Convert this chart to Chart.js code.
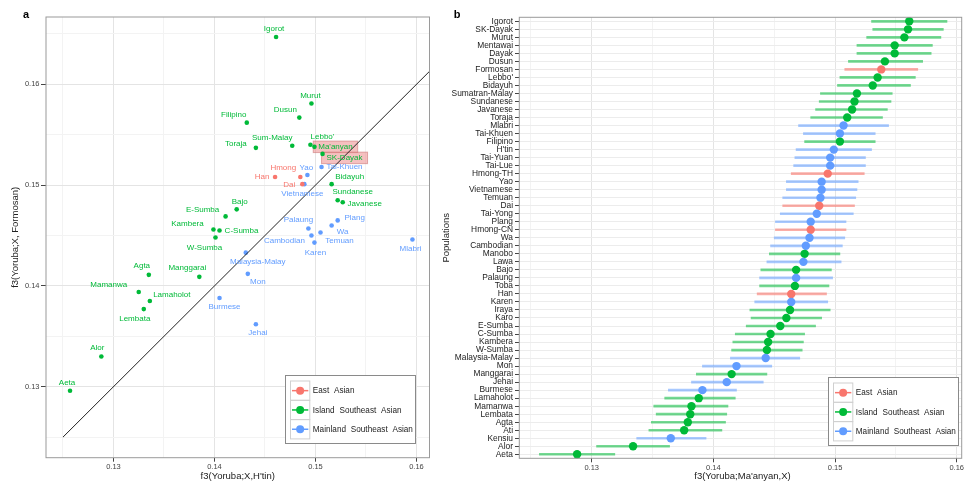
<!DOCTYPE html>
<html><head><meta charset="utf-8">
<script src="https://cdn.jsdelivr.net/npm/chart.js@4.4.1/dist/chart.umd.min.js"></script>
<style>
html,body{margin:0;padding:0;width:966px;height:483px;overflow:hidden;background:#fff;}
#wa{position:absolute;left:0;top:0;width:440px;height:483px;}
#wb{position:absolute;left:440px;top:0;width:540px;height:483px;}
</style></head><body>
<div id="wa"><canvas id="ca"></canvas></div>
<div id="wb"><canvas id="cb"></canvas></div>
<script>
// ---------- Panel a data ----------
const aNames = ["Igorot","Murut","Dusun","Filipino","Sum-Malay","Toraja","Lebbo'","Ma'anyan","SK-Dayak",
  "Tai-Khuen","Yao","Hmong","Han","Dai","Vietnamese",
  "Bidayuh","Sundanese","Javanese","Bajo","E-Sumba","Kambera","C-Sumba","W-Sumba",
  "Palaung","Plang","Wa","Cambodian","Temuan","Karen","Mlabri","Malaysia-Malay","Mon","Burmese","Jehai",
  "Agta","Manggarai","Mamanwa","Lamaholot","Lembata","Alor","Aeta"];
const aHtin = [0.1461,0.1496,0.1484,0.1432,0.1477,0.1441,0.1495,0.1499,0.1507,
  0.1506,0.1492,0.1485,0.1460,0.1487,0.1489,
  0.1516,0.1522,0.1527,0.1422,0.1411,0.1399,0.1405,0.1401,
  0.1493,0.1522,0.1516,0.1496,0.1505,0.1499,0.1596,0.1431,0.1433,0.1405,0.1441,
  0.1335,0.1385,0.1325,0.1336,0.1330,0.1288,0.1257];
const aFormosan = [0.1647,0.1581,0.1567,0.1562,0.1539,0.1537,0.1540,0.1538,0.1531,
  0.1518,0.1510,0.1508,0.1508,0.1501,0.1501,
  0.1501,0.1485,0.1483,0.1476,0.1469,0.1456,0.1455,0.1448,
  0.1457,0.1465,0.1460,0.1450,0.1453,0.1443,0.1446,0.1433,0.1412,0.1388,0.1362,
  0.1411,0.1409,0.1394,0.1385,0.1377,0.1330,0.1296];
const aGroup = ['I','I','I','I','I','I','I','I','I',
  'M','M','E','E','E','M',
  'I','I','I','I','I','I','I','I',
  'M','M','M','M','M','M','M','M','M','M','M',
  'I','I','I','I','I','I','I'];
const highlighted = ["Ma'anyan","SK-Dayak"];
const refLine = [0.125, 0.17];
const aXGrid = [0.125,0.13,0.135,0.14,0.145,0.15,0.155,0.16];
const aYGrid = [0.125,0.13,0.135,0.14,0.145,0.15,0.155,0.16,0.165];
const majorTicks = [0.13,0.14,0.15,0.16];

// label offsets (style, pixels)
const aLabelDX = [-2,-1,-14,-13,-20,-20,12,21,22, 23,-1,-17,-13,-13,-2, 18,15,22,3,-23,-26,22,-11, -10,17,11,-27,19,1,-2,12,10,5,2, -7,-12,-30,22,-9,-4,-3];
const aLabelDY = [-8,-8,-8,-8,-8,-4,-8,0,4, 0,-7,-9,0,1,10, -7,-8,2,-8,-7,-6,0,10, -9,-3,6,5,8,10,9,9,8,9,9, -9,-9,-7,-6,10,-9,-8];

// ---------- Panel b data ----------
const bPops = ["Igorot","SK-Dayak","Murut","Mentawai","Dayak","Dusun","Formosan","Lebbo'","Bidayuh",
  "Sumatran-Malay","Sundanese","Javanese","Toraja","Mlabri","Tai-Khuen","Filipino","H'tin","Tai-Yuan","Tai-Lue",
  "Hmong-TH","Yao","Vietnamese","Temuan","Dai","Tai-Yong","Plang","Hmong-CN","Wa","Cambodian","Manobo","Lawa",
  "Bajo","Palaung","Toba","Han","Karen","Iraya","Karo","E-Sumba","C-Sumba","Kambera","W-Sumba","Malaysia-Malay",
  "Mon","Manggarai","Jehai","Burmese","Lamaholot","Mamanwa","Lembata","Agta","Ati","Kensiu","Alor","Aeta"];
const bF3 = [0.1561,0.1560,0.1557,0.1549,0.1549,0.1541,0.1538,0.1535,0.1531,
  0.1518,0.1516,0.1514,0.1510,0.1507,0.1504,0.1504,0.1499,0.1496,0.1496,
  0.1494,0.1489,0.1489,0.1488,0.1487,0.1485,0.1480,0.1480,0.1479,0.1476,0.1475,0.1474,
  0.1468,0.1468,0.1467,0.1464,0.1464,0.1463,0.1460,0.1455,0.1447,0.1445,0.1444,0.1443,
  0.1419,0.1415,0.1411,0.1391,0.1388,0.1382,0.1381,0.1379,0.1376,0.1365,0.1334,0.1288];
const bLo = [0.1530,0.1531,0.1526,0.1518,0.1518,0.1511,0.1508,0.1504,0.1502,
  0.1488,0.1487,0.1484,0.1480,0.1470,0.1474,0.1475,0.1468,0.1467,0.1466,
  0.1464,0.1460,0.1460,0.1457,0.1457,0.1455,0.1451,0.1451,0.1450,0.1447,0.1446,0.1444,
  0.1439,0.1438,0.1438,0.1436,0.1434,0.1430,0.1431,0.1427,0.1418,0.1416,0.1415,0.1414,
  0.1391,0.1386,0.1382,0.1363,0.1360,0.1351,0.1353,0.1349,0.1347,0.1337,0.1304,0.1257];
const bHi = [0.1592,0.1589,0.1587,0.1580,0.1579,0.1572,0.1568,0.1566,0.1562,
  0.1547,0.1546,0.1543,0.1539,0.1544,0.1533,0.1533,0.1530,0.1525,0.1525,
  0.1524,0.1519,0.1518,0.1517,0.1516,0.1515,0.1509,0.1509,0.1508,0.1506,0.1504,0.1505,
  0.1497,0.1498,0.1495,0.1493,0.1494,0.1496,0.1489,0.1484,0.1475,0.1474,0.1473,0.1471,
  0.1448,0.1444,0.1441,0.1419,0.1418,0.1412,0.1411,0.1410,0.1407,0.1394,0.1364,0.1319];
const bGroup = ['I','I','I','I','I','I','E','I','I',
  'I','I','I','I','M','M','I','M','M','M',
  'E','M','M','M','E','M','M','E','M','M','I','M',
  'I','M','I','E','M','I','I','I','I','I','I','M',
  'M','I','M','M','I','I','I','I','I','M','I','I'];
const bXGrid = [0.125,0.13,0.135,0.14,0.145,0.15,0.155,0.16];

// ---------- legend ----------
const groupKeys = ['E','I','M'];
const groupLabels = ['East Asian','Island Southeast Asian','Mainland Southeast Asian'];

// ---------- styles ----------
const FONT = '"Liberation Sans", Arial, Helvetica, sans-serif';
const colors = {E:'#F8766D', I:'#00BA38', M:'#619CFF'};
const barColors = {E:'rgba(248,118,109,0.6)', I:'rgba(0,186,56,0.55)', M:'rgba(97,156,255,0.55)'};

const isMajor = v => majorTicks.some(m => Math.abs(m - v) < 1e-7);
const gridColor = c => (c.tick && isMajor(c.tick.value)) ? '#e4e4e4' : '#f3f3f3';
const tickColor = c => (c.tick && isMajor(c.tick.value)) ? '#444' : 'rgba(0,0,0,0)';
const tickLabel = v => isMajor(v) ? (+v).toFixed(2) : '';
const setTicks = arr => scale => { scale.ticks = arr.map(v => ({value: v})); };

function drawBorder(chart){
  const {ctx, chartArea:a} = chart;
  ctx.save(); ctx.strokeStyle='#9a9a9a'; ctx.lineWidth=1;
  ctx.strokeRect(a.left, a.top, a.right-a.left, a.bottom-a.top);
  ctx.restore();
}
function drawLegend(ctx, x0, y0){
  const w=130, h=68, ks=19.3;
  ctx.save();
  ctx.fillStyle='#fff'; ctx.fillRect(x0,y0,w,h);
  ctx.strokeStyle='#8a8a8a'; ctx.lineWidth=1; ctx.strokeRect(x0+0.5,y0+0.5,w,h);
  groupKeys.forEach((g,k)=>{
    const kx=x0+5.5, ky=y0+6+k*ks;
    ctx.strokeStyle='#d0d0d0'; ctx.lineWidth=1; ctx.strokeRect(kx,ky,ks,ks);
    ctx.strokeStyle=colors[g]; ctx.lineWidth=1.5;
    ctx.beginPath(); ctx.moveTo(kx+1.5,ky+ks/2); ctx.lineTo(kx+ks-1.5,ky+ks/2); ctx.stroke();
    ctx.fillStyle=colors[g]; ctx.beginPath(); ctx.arc(kx+ks/2,ky+ks/2,4,0,Math.PI*2); ctx.fill();
    ctx.fillStyle='#222'; ctx.font=`8.2px ${FONT}`; ctx.textAlign='left'; ctx.textBaseline='middle';
    if ('wordSpacing' in ctx) ctx.wordSpacing='2.5px';
    ctx.fillText(groupLabels[k], kx+ks+3, ky+ks/2+0.5);
  });
  ctx.restore();
}
function drawText(ctx, text, x, y, size, opts={}){
  ctx.save();
  ctx.translate(x,y);
  if (opts.rotate) ctx.rotate(opts.rotate);
  ctx.font = `${opts.bold?'bold ':''}${size}px ${FONT}`;
  ctx.fillStyle = opts.color || '#222';
  ctx.textAlign='center'; ctx.textBaseline='middle';
  ctx.fillText(text,0,0);
  ctx.restore();
}

// ---------- Panel a ----------
const pluginA = {
  id:'annoA',
  beforeDatasetsDraw(chart){
    const {ctx, scales:{x,y}} = chart;
    ctx.save(); ctx.font=`8px ${FONT}`;
    aNames.forEach((n,i)=>{
      if (!highlighted.includes(n)) return;
      const px = x.getPixelForValue(aHtin[i]) + aLabelDX[i];
      const py = y.getPixelForValue(aFormosan[i]) + aLabelDY[i];
      const w = ctx.measureText(n).width + 10, h = 11.5;
      ctx.fillStyle='rgba(236,130,130,0.5)'; ctx.fillRect(px-w/2,py-h/2,w,h);
      ctx.strokeStyle='rgba(205,120,120,0.6)'; ctx.lineWidth=1; ctx.strokeRect(px-w/2,py-h/2,w,h);
    });
    ctx.restore();
  },
  afterDatasetsDraw(chart){
    const {ctx, scales:{x,y}} = chart;
    ctx.save();
    ctx.font=`8px ${FONT}`; ctx.textAlign='center'; ctx.textBaseline='middle';
    aNames.forEach((n,i)=>{
      const px = x.getPixelForValue(aHtin[i]) + aLabelDX[i];
      const py = y.getPixelForValue(aFormosan[i]) + aLabelDY[i];
      ctx.fillStyle = colors[aGroup[i]];
      ctx.fillText(n, px, py);
    });
    ctx.restore();
  },
  afterDraw(chart){
    const {ctx, chartArea:a} = chart;
    drawBorder(chart);
    drawLegend(ctx, 285, 375);
    drawText(ctx, "f3(Yoruba;X,H'tin)", (a.left+a.right)/2, 476, 9.5);
    drawText(ctx, "f3(Yoruba;X, Formosan)", 15, (a.top+a.bottom)/2, 9.5, {rotate:-Math.PI/2});
    drawText(ctx, "a", 26, 15, 11, {bold:true, color:'#000'});
  }
};

const dsA = groupKeys.map(g => ({
  type:'scatter',
  data: aNames.map((n,i)=>({x:aHtin[i], y:aFormosan[i], g:aGroup[i]})).filter(p=>p.g===g),
  backgroundColor: colors[g], borderColor: colors[g], pointRadius: 2.3, pointBorderWidth: 0, order: 2
}));
dsA.push({type:'scatter', showLine:true, data: refLine.map(v=>({x:v,y:v})), borderColor:'#222', borderWidth:1, pointRadius:0, order:1});

new Chart(document.getElementById('ca'), {
  type:'scatter',
  data:{datasets: dsA},
  options:{
    responsive:true, maintainAspectRatio:false, animation:false,
    layout:{padding:{left:0, top:17, right:10.5, bottom:0}},
    plugins:{legend:{display:false}, tooltip:{enabled:false}},
    scales:{
      x:{type:'linear', min:0.12332, max:0.16129,
        afterBuildTicks: setTicks(aXGrid),
        afterFit: s=>{s.height=25.3; s.paddingLeft=0; s.paddingRight=0;},
        border:{display:false},
        grid:{color:gridColor, lineWidth:1, drawTicks:true, tickLength:4, tickColor:tickColor, tickWidth:1},
        ticks:{callback:tickLabel, color:'#444', font:{family:FONT, size:7.5}, padding:1, maxRotation:0, autoSkip:false}},
      y:{type:'linear', min:0.12296, max:0.16668,
        afterBuildTicks: setTicks(aYGrid),
        afterFit: s=>{s.width=46; s.paddingTop=0; s.paddingBottom=0;},
        border:{display:false},
        grid:{color:gridColor, lineWidth:1, drawTicks:true, tickLength:5, tickColor:tickColor, tickWidth:1},
        ticks:{callback:tickLabel, color:'#444', font:{family:FONT, size:7.5}, padding:1.5, autoSkip:false}}
    }
  },
  plugins:[pluginA]
});

// ---------- Panel b ----------
const pluginB = {
  id:'annoB',
  afterDraw(chart){
    const {ctx, chartArea:a} = chart;
    drawBorder(chart);
    drawLegend(ctx, 388, 377);
    drawText(ctx, "f3(Yoruba;Ma'anyan,X)", (a.left+a.right)/2+2, 476, 9.5);
    drawText(ctx, "Populations", 6, (a.top+a.bottom)/2, 9.5, {rotate:-Math.PI/2});
    drawText(ctx, "b", 17, 15, 11, {bold:true, color:'#000'});
  }
};

new Chart(document.getElementById('cb'), {
  type:'bar',
  data:{
    labels: bPops,
    datasets:[
      {type:'line', indexAxis:'y', data: bF3, showLine:false, pointRadius:4.2, pointBorderWidth:0,
        pointBackgroundColor: bGroup.map(g=>colors[g]), pointBorderColor: bGroup.map(g=>colors[g]), order:1},
      {type:'bar', indexAxis:'y', data: bPops.map((p,i)=>[bLo[i], bHi[i]]),
        backgroundColor: bGroup.map(g=>barColors[g]), borderWidth:0, barThickness:2, order:2}
    ]
  },
  options:{
    indexAxis:'y',
    responsive:true, maintainAspectRatio:false, animation:false,
    layout:{padding:{left:0, top:17.3, right:18.3, bottom:0}},
    plugins:{legend:{display:false}, tooltip:{enabled:false}},
    scales:{
      x:{type:'linear', min:0.12405, max:0.16041,
        afterBuildTicks: setTicks(bXGrid),
        afterFit: s=>{s.height=24.7; s.paddingLeft=0; s.paddingRight=0;},
        border:{display:false},
        grid:{color:gridColor, lineWidth:1, drawTicks:true, tickLength:4, tickColor:tickColor, tickWidth:1},
        ticks:{callback:tickLabel, color:'#444', font:{family:FONT, size:7.5}, padding:1, maxRotation:0, autoSkip:false}},
      y:{type:'category', offset:true,
        afterFit: s=>{s.width=79.3; s.paddingTop=0; s.paddingBottom=0;},
        border:{display:false},
        grid:{offset:false, color:'#ececec', lineWidth:1, drawTicks:true, tickLength:4.3, tickColor:'#444', tickWidth:1},
        ticks:{color:'#222', font:{family:FONT, size:8.4}, padding:2, autoSkip:false}}
    }
  },
  plugins:[pluginB]
});
</script>
</body></html>
